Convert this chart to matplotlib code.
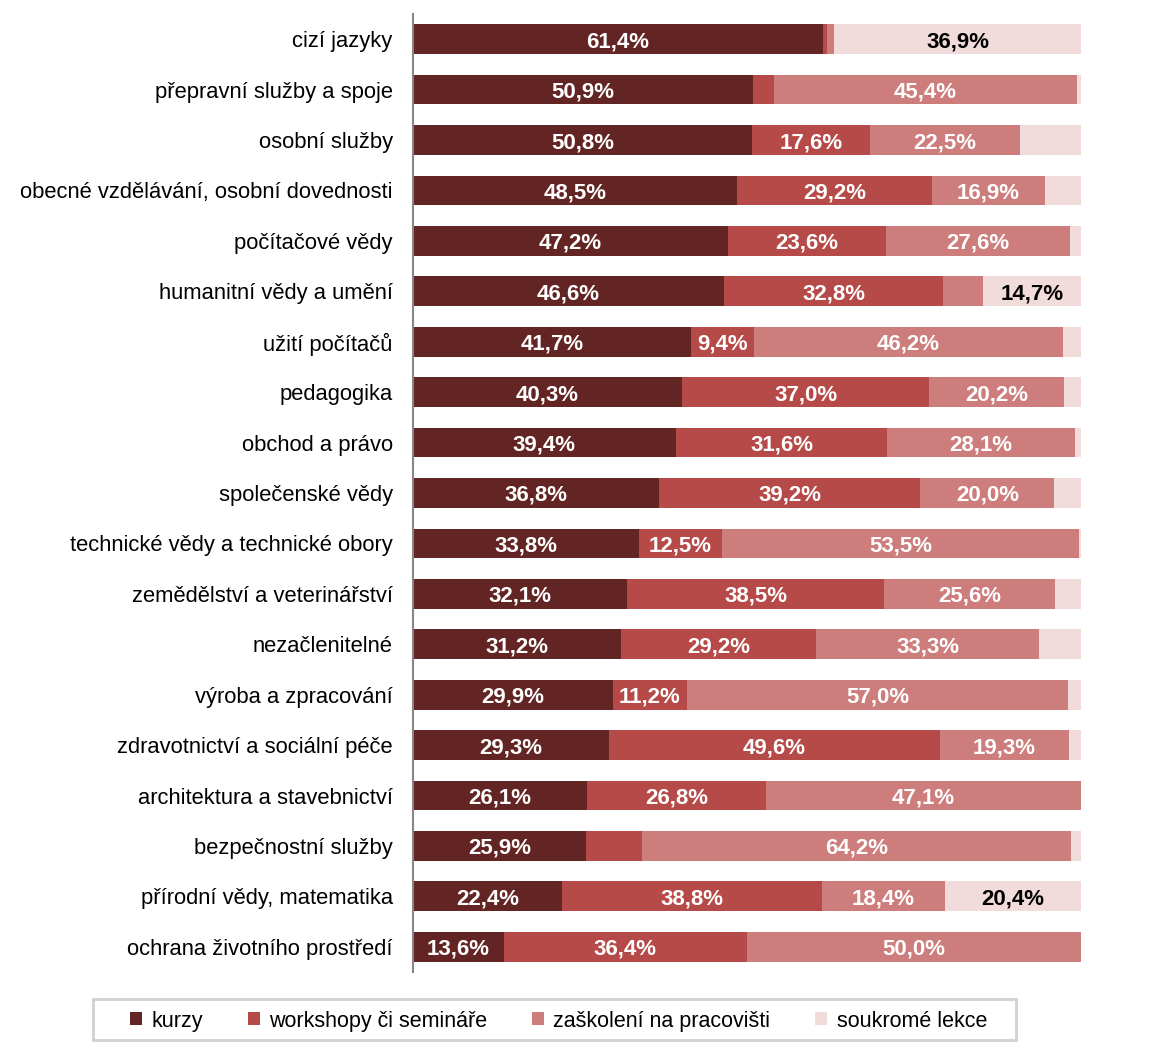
import numpy as np
import matplotlib.pyplot as plt
from matplotlib.patches import Rectangle

plt.rcParams['font.family'] = ['Liberation Sans', 'DejaVu Sans']

categories = [
    'cizí jazyky', 'přepravní služby a spoje', 'osobní služby',
    'obecné vzdělávání, osobní dovednosti', 'počítačové vědy',
    'humanitní vědy a umění', 'užití počítačů', 'pedagogika',
    'obchod a právo', 'společenské vědy', 'technické vědy a technické obory',
    'zemědělství a veterinářství', 'nezačlenitelné', 'výroba a zpracování',
    'zdravotnictví a sociální péče', 'architektura a stavebnictví',
    'bezpečnostní služby', 'přírodní vědy, matematika',
    'ochrana životního prostředí',
]

kurzy = [61.4, 50.9, 50.8, 48.5, 47.2, 46.6, 41.7, 40.3, 39.4, 36.8,
         33.8, 32.1, 31.2, 29.9, 29.3, 26.1, 25.9, 22.4, 13.6]
workshopy = [0.6, 3.1, 17.6, 29.2, 23.6, 32.8, 9.4, 37.0, 31.6, 39.2,
             12.5, 38.5, 29.2, 11.2, 49.6, 26.8, 8.4, 38.8, 36.4]
zaskoleni = [1.1, 45.4, 22.5, 16.9, 27.6, 5.9, 46.2, 20.2, 28.1, 20.0,
             53.5, 25.6, 33.3, 57.0, 19.3, 47.1, 64.2, 18.4, 50.0]
soukrome = [36.9, 0.6, 9.1, 5.4, 1.6, 14.7, 2.7, 2.5, 0.9, 4.0,
            0.2, 3.8, 6.3, 1.9, 1.8, 0.0, 1.5, 20.4, 0.0]

series = [kurzy, workshopy, zaskoleni, soukrome]
names = ['kurzy', 'workshopy či semináře', 'zaškolení na pracovišti', 'soukromé lekce']
colors = ['#632523', '#B64A48', '#CD7D7C', '#F2DCDB']
text_colors = ['white', 'white', 'white', 'black']

fig = plt.figure(figsize=(11.53, 10.5), dpi=100)
ax = fig.add_axes([0.358, 0.0743, 0.5794, 0.9124])

y = np.arange(len(categories))
left = np.zeros(len(categories))
for vals, name, col, tcol in zip(series, names, colors, text_colors):
    vals = np.array(vals)
    ax.barh(y, vals, left=left, height=0.59, color=col, label=name)
    for yi, (l, v) in enumerate(zip(left, vals)):
        if v >= 9.3:
            ax.text(l + v / 2, yi, f'{v:.1f}%'.replace('.', ','), ha='center',
                    va='center_baseline', color=tcol, fontsize=16, fontweight='bold')
    left += vals

ax.set_xlim(0, 100)
ax.set_ylim(len(categories) - 0.5, -0.5)
ax.set_yticks(y)
ax.set_yticklabels(categories, fontsize=15.8)
ax.set_xticks([])
ax.tick_params(axis='y', length=0, pad=14.5)
for s in ['top', 'right', 'bottom']:
    ax.spines[s].set_visible(False)
ax.spines['left'].set_color('#868686')
ax.spines['left'].set_linewidth(1.5)

# legend entries without frame, box drawn separately (x 93..1016, y 999..1040 px)
fig.legend(loc='center', bbox_to_anchor=(0.4844, 0.0276), ncol=4,
           fontsize=15.5, frameon=False,
           handlelength=0.55, handleheight=0.55, columnspacing=2.07,
           handletextpad=0.45, borderpad=0, borderaxespad=0)
fig.patches.append(Rectangle((93 / 1153, 10 / 1050), 923 / 1153, 41 / 1050,
                             transform=fig.transFigure, fill=False,
                             edgecolor='#D0D0D0', linewidth=2))

fig.savefig('out.png', dpi=100)
